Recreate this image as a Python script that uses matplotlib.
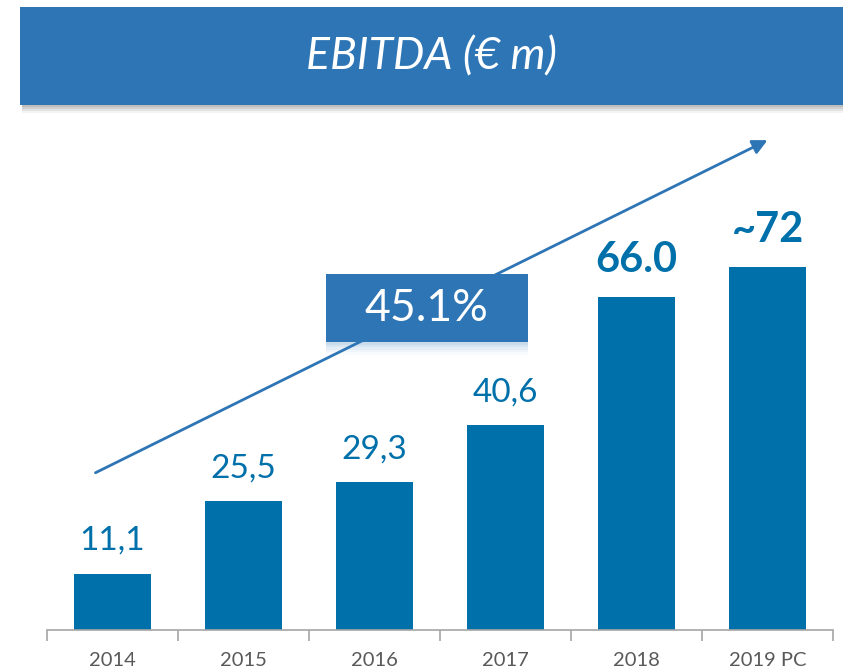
import matplotlib.pyplot as plt
from matplotlib.patches import Rectangle

years = ['2014', '2015', '2016', '2017', '2018', '2019 PC']
ebitda = [11.1, 25.5, 29.3, 40.6, 66.0, 72.0]
value_labels = ['11,1', '25,5', '29,3', '40,6', '66.0', '~72']
bold_labels = [False, False, False, False, True, True]
cagr_label = '45.1%'
title = 'EBITDA (€ m)'

bar_color = '#0070AA'
box_color = '#2E75B6'
grey = '#595959'

plt.rcParams['font.family'] = ['Lato', 'DejaVu Sans']

W, H = 843, 671
fig = plt.figure(figsize=(W / 100, H / 100), dpi=100)

# title banner with a soft shadow underneath
for i, a in enumerate([0.35, 0.25, 0.15, 0.08]):
    fig.patches.append(Rectangle((22 / W, 1 - (107 + i * 2) / H), 1, 4 / H,
                                 transform=fig.transFigure, color='#7f7f7f',
                                 alpha=a, lw=0, zorder=0))
fig.patches.append(Rectangle((20 / W, 1 - 105 / H), 1, 98 / H,
                             transform=fig.transFigure, color=box_color,
                             lw=0, zorder=1))
fig.text(431 / W, 1 - 57 / H, title, color='white', fontsize=32,
         style='italic', ha='center', va='center', zorder=2)

ax = fig.add_axes([47 / W, 41 / H, 786 / W, 510 / H])
x = range(len(years))
ax.bar(x, ebitda, width=0.59, color=bar_color, zorder=2)

for xi, v, lab, b in zip(x, ebitda, value_labels, bold_labels):
    ax.text(xi, v + 3.6, lab, ha='center', va='bottom', color=bar_color,
            fontsize=30 if b else 24, fontweight='bold' if b else 'normal',
            zorder=3)

ax.set_xlim(-0.5, len(years) - 0.5)
ax.set_ylim(0, 101.2)
for s in ['top', 'right', 'left']:
    ax.spines[s].set_visible(False)
ax.spines['bottom'].set_color('#a6a6a6')
ax.spines['bottom'].set_linewidth(1.2)
ax.set_yticks([])
ax.set_xticks([i - 0.5 for i in range(len(years) + 1)])
ax.set_xticklabels([])
ax.set_xticks(list(x), minor=True)
ax.set_xticklabels(years, minor=True, fontsize=14.5, color=grey)
ax.tick_params(axis='x', which='major', length=8, color='#a6a6a6', width=1.2)
ax.tick_params(axis='x', which='minor', length=0, pad=16)

# growth arrow
ax.annotate('', xy=(5.0, 97.2), xytext=(-0.13, 31.2),
            arrowprops=dict(arrowstyle='-|>', color=box_color, lw=2,
                            mutation_scale=22, shrinkA=0, shrinkB=0),
            zorder=1, annotation_clip=False)

# CAGR box with faint reflection below
ax.add_patch(Rectangle((1.63, 57.1), 1.54, 13.5, color=box_color, lw=0, zorder=4))
for i, a in enumerate([0.25, 0.18, 0.12, 0.07, 0.03]):
    ax.add_patch(Rectangle((1.63, 57.1 - (i + 1) * 0.5), 1.54, 0.5,
                           color=box_color, lw=0, zorder=0.5, alpha=a))
ax.text(2.40, 63.85, cagr_label, ha='center', va='center', color='white',
        fontsize=32, zorder=5)

fig.savefig('out.png', dpi=100)
